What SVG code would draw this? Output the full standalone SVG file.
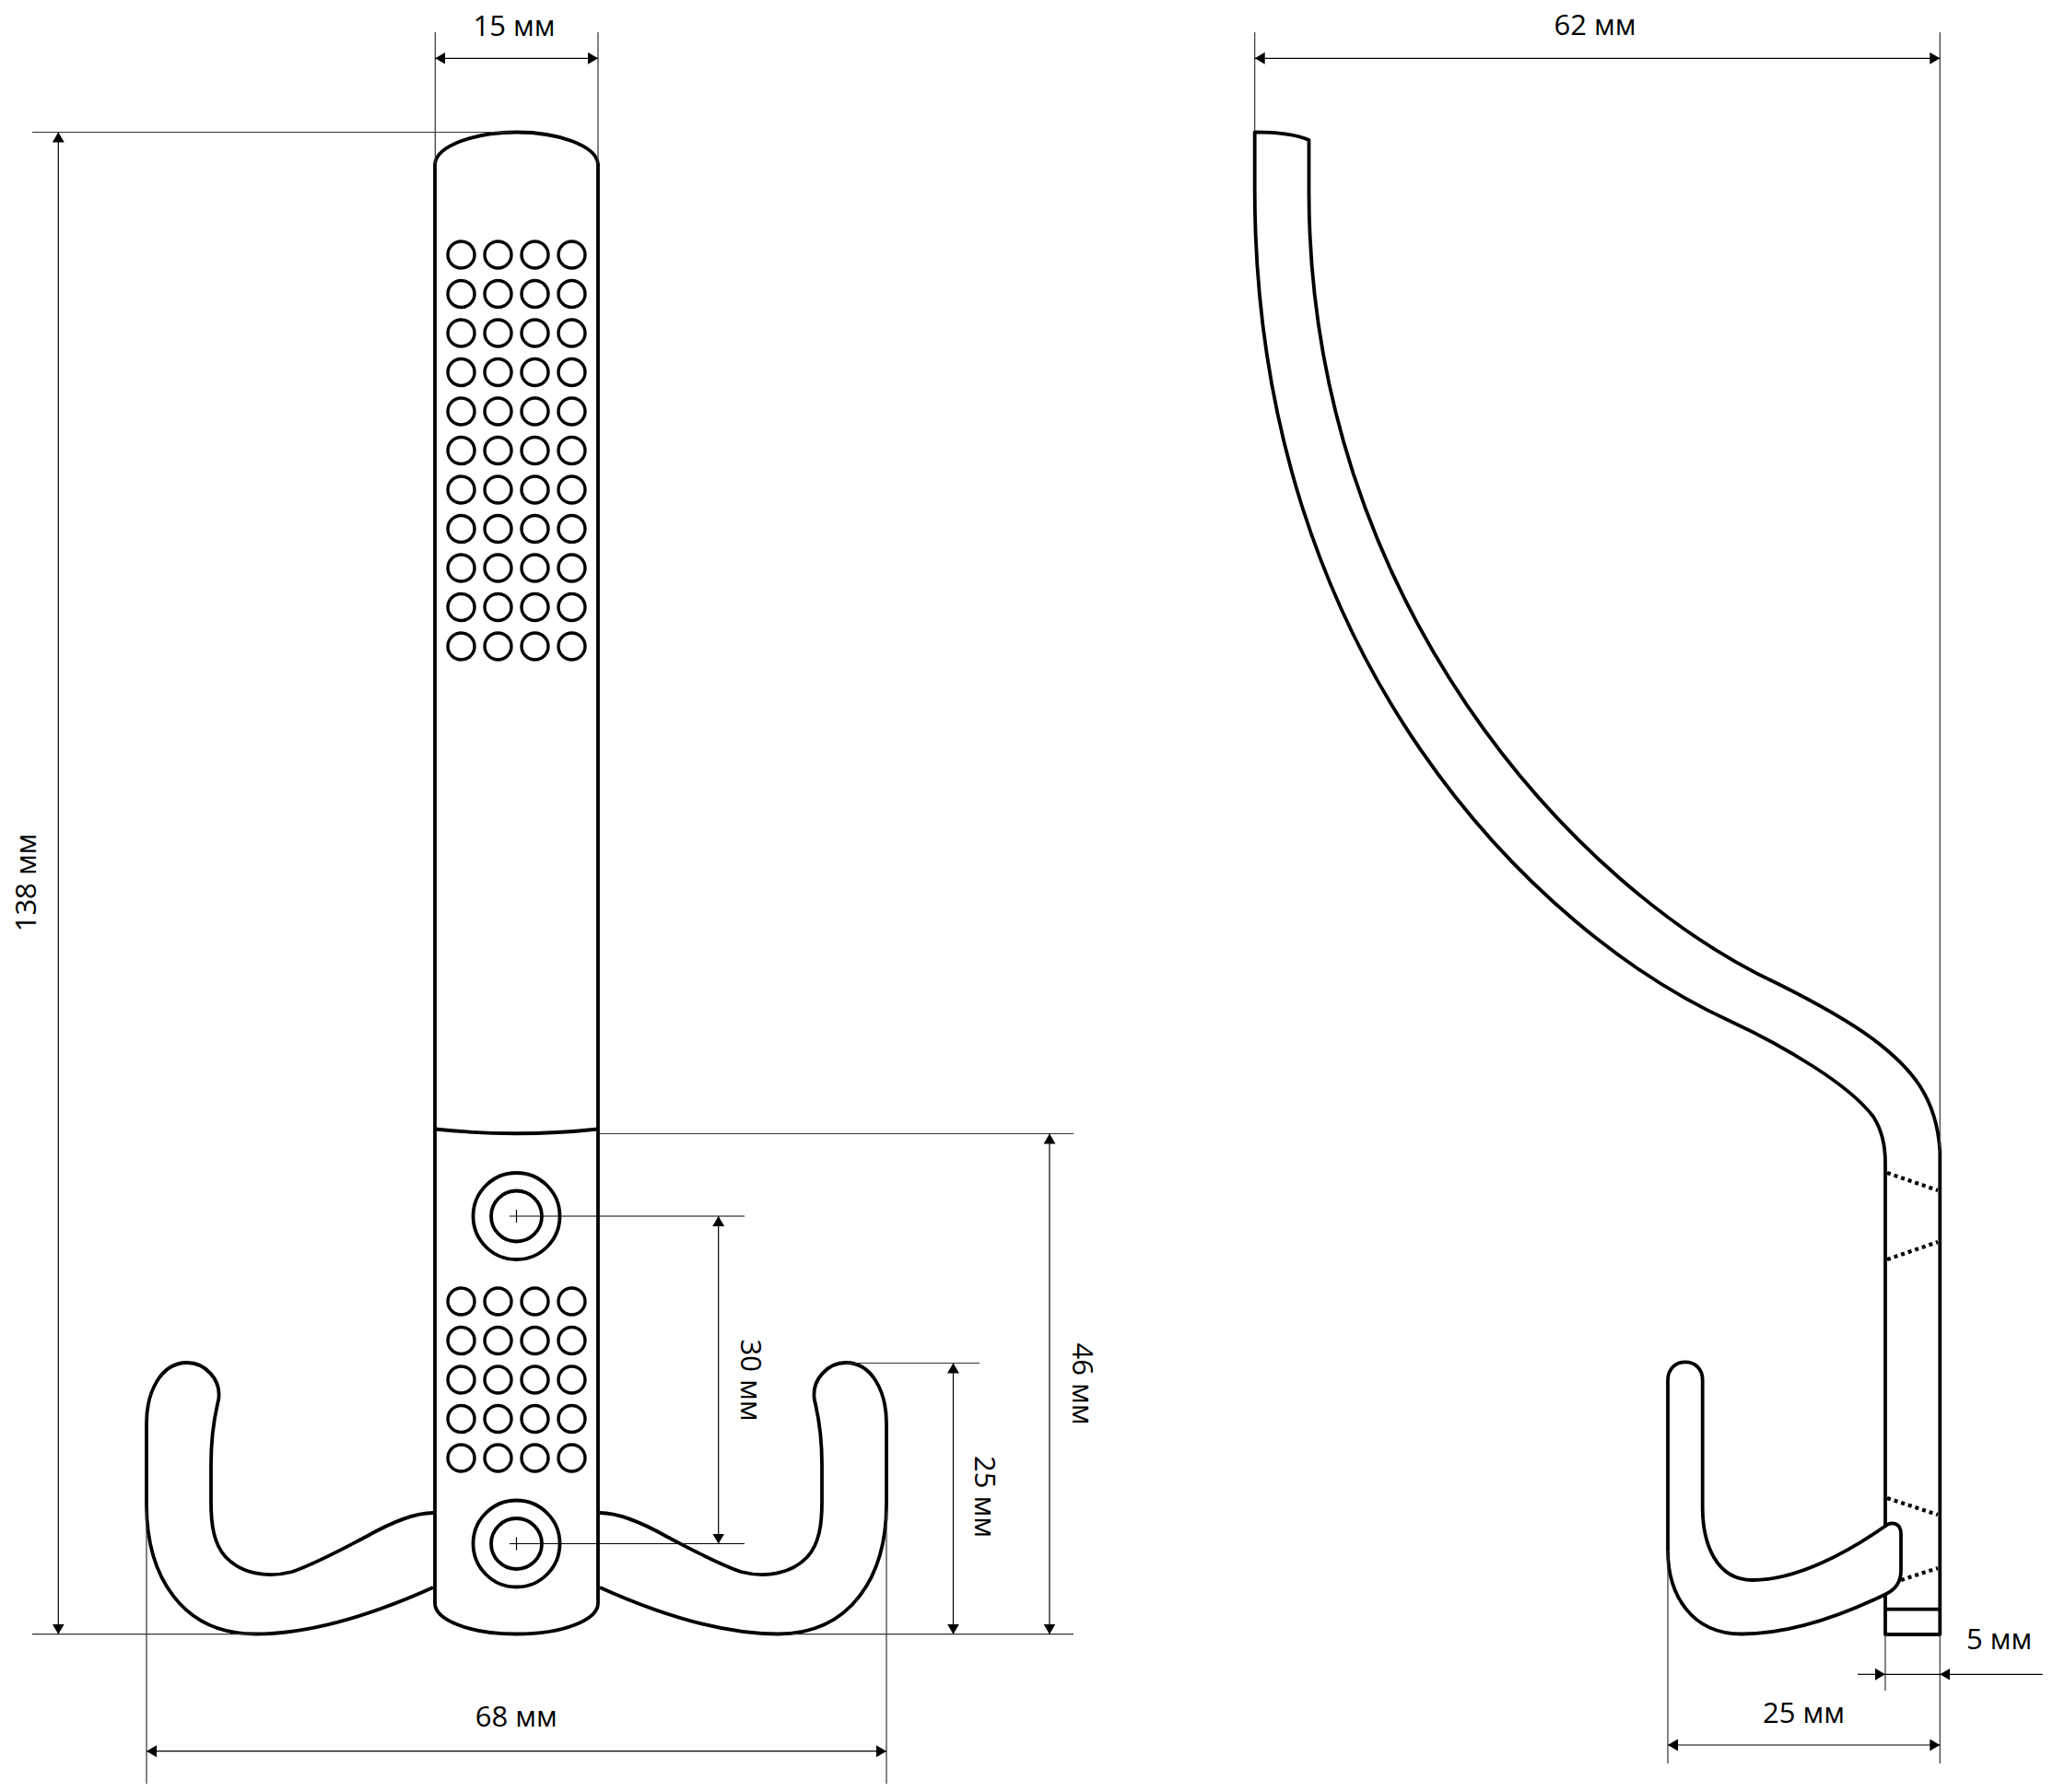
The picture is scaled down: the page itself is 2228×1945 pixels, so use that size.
<svg xmlns="http://www.w3.org/2000/svg" xmlns:xlink="http://www.w3.org/1999/xlink" width="2228" height="1945" viewBox="0 0 2228 1945">
<style>
.o{fill:#fff;stroke:#000;stroke-width:3.8;stroke-linejoin:round}
.n{fill:none;stroke:#000;stroke-width:3.8}
.d{fill:none;stroke:#000;stroke-width:3.4}
.h{fill:none;stroke:#000;stroke-width:4.2;stroke-dasharray:4 4}
.e{fill:none;stroke:#333;stroke-width:1.2}
.a{fill:none;stroke:#000;stroke-width:1.2}
.aa{marker-start:url(#ah);marker-end:url(#ah)}
.ae{marker-end:url(#ah)}
text{font-family:"Open Sans","Noto Sans","Liberation Sans",sans-serif;font-size:31px;fill:#000;text-anchor:middle}
</style>
<defs>
<marker id="ah" markerUnits="userSpaceOnUse" markerWidth="12" markerHeight="14" refX="11" refY="6.5" orient="auto-start-reverse"><path d="M0,0L11,6.5L0,13Z" fill="#000"/></marker>
<g id="row"><circle class="d" cx="500.5" cy="0" r="14.5"/><circle class="d" cx="540.5" cy="0" r="14.5"/><circle class="d" cx="580.5" cy="0" r="14.5"/><circle class="d" cx="620.5" cy="0" r="14.5"/></g>
<path id="arm" class="o" d="M470,1642C448,1642 420,1655 397,1668C372,1681 345,1696 317,1706C290,1713 262,1708 245,1690C232,1676 229,1655 229,1630L229,1590C229,1560 232,1540 237,1520C241,1497 222,1479 203,1479C175,1479 159,1510 159,1545L159,1633C159,1710 197,1773.5 277,1773.5C340,1773.5 410,1750 470,1723"/>
</defs>
<g id="front-view">
<g id="front-arm-left"><use xlink:href="#arm" href="#arm"/></g>
<g id="front-arm-right"><use xlink:href="#arm" href="#arm" transform="translate(1121,0) scale(-1,1)"/></g>
<g id="front-body"><path class="o" d="M472,178C474,158 515,143.5 560.5,143.5C606,143.5 647,158 649,178L649,1740C649,1758 612,1773.5 560.5,1773.5C509,1773.5 472,1758 472,1740Z"/>
<path class="n" d="M472,1225.5Q560.5,1235 649,1225.5"/></g>
<g id="front-dots-top">
<use xlink:href="#row" href="#row" y="276.5"/><use xlink:href="#row" href="#row" y="319"/><use xlink:href="#row" href="#row" y="361.5"/><use xlink:href="#row" href="#row" y="404"/><use xlink:href="#row" href="#row" y="446.5"/><use xlink:href="#row" href="#row" y="489"/><use xlink:href="#row" href="#row" y="531.5"/><use xlink:href="#row" href="#row" y="574"/><use xlink:href="#row" href="#row" y="616.5"/><use xlink:href="#row" href="#row" y="659"/><use xlink:href="#row" href="#row" y="701.5"/>
</g>
<g id="front-dots-bottom">
<use xlink:href="#row" href="#row" y="1412.5"/><use xlink:href="#row" href="#row" y="1455"/><use xlink:href="#row" href="#row" y="1497.5"/><use xlink:href="#row" href="#row" y="1540"/><use xlink:href="#row" href="#row" y="1582.5"/>
</g>
<g id="front-screw-top"><circle class="n" cx="560.5" cy="1320" r="47"/><circle class="n" cx="560.5" cy="1320" r="27.5"/></g>
<g id="front-screw-bottom"><circle class="n" cx="560.5" cy="1675.5" r="47"/><circle class="n" cx="560.5" cy="1675.5" r="27.5"/></g>
</g>
<g id="side-view">
<g id="side-body"><path class="o" d="M1361.7,143.3L1361.7,206.5C1361.9,717 1668.4,1013.6 1879,1109C1917,1126.5 1945,1143 1967,1157C2000,1178 2020,1195 2033,1212C2042,1226 2046,1245 2046,1262L2046,1774L2105.3,1774L2105.3,1250C2102,1190 2073,1158 2033,1128C2003,1106 1970,1088 1929.4,1067.8C1710.5,965.8 1420,653 1420.5,206.5L1420.5,152C1405,145 1385,143.3 1361.7,143.3Z"/>
<path class="n" d="M2046,1746.7L2105.3,1746.7"/>
<path class="h" d="M2048,1273L2103,1292"/><path class="h" d="M2048,1367L2103,1348"/><path class="h" d="M2048,1626L2103,1644"/><path class="h" d="M2063,1715L2103,1702"/></g>
<g id="side-hook"><path class="o" d="M1810,1683L1810,1498C1810,1485 1819,1478.3 1829,1478.3C1839,1478.3 1847.7,1485 1847.7,1498L1847.7,1637C1848,1675 1862,1715 1902,1715C1950,1715 2005,1685 2045,1657C2052,1651 2063,1652 2063,1665L2063,1705C2063,1718 2055,1726 2047,1730C2000,1753 1945,1773.5 1890,1773.5C1835,1773.5 1810,1730 1810,1683Z"/></g>
</g>
<g id="connectors">
<path class="e" d="M472.3,35V178M649,35V178M35,143.5H555M35,1773.7H277M159,1640V1936M962,1640V1936M651,1230.5H1165M860,1773.7H1165M918,1479.5H1063"/>
<path class="e" d="M1361.7,35V143M2105.3,35V1250M2105.3,1774V1914M1810,1683V1914M2046,1775V1835"/>
<path class="a" d="M553,1320H808M560.5,1313V1327M553,1675.5H808M560.5,1668.5V1682.5"/>
<path class="a aa" d="M472.3,63.3H649"/>
<path class="a aa" d="M63.3,143.5V1773.7"/>
<path class="a aa" d="M159,1900.7H962"/>
<path class="a aa" d="M779.7,1320V1675.5"/>
<path class="a aa" d="M1034.5,1479.5V1773.7"/>
<path class="a aa" d="M1139,1230.5V1773.7"/>
<path class="a aa" d="M1361.7,63.3H2105.3"/>
<path class="a aa" d="M1810,1894H2105.3"/>
<path class="a ae" d="M2016,1817.3H2046"/>
<path class="a" d="M2046,1817.3H2105.3"/>
<path class="a ae" d="M2216.7,1817.3H2105.3"/>
</g>
<g id="labels">
<text x="558" y="39.3">15 мм</text>
<text x="1731" y="38">62 мм</text>
<text x="560.3" y="1874.3">68 мм</text>
<text x="1957.5" y="1870">25 мм</text>
<text x="2169.5" y="1790">5 мм</text>
<text transform="translate(39.3,958) rotate(-90)">138 мм</text>
<text transform="translate(803.6,1498) rotate(90)">30 мм</text>
<text transform="translate(1058,1624.5) rotate(90)">25 мм</text>
<text transform="translate(1164,1502) rotate(90)">46 мм</text>
</g>
</svg>
